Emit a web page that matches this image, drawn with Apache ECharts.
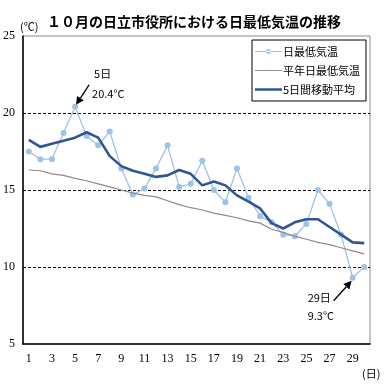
<!DOCTYPE html>
<html><head><meta charset="utf-8">
<script src="https://cdn.jsdelivr.net/npm/echarts@6/dist/echarts.min.js"></script>
<style>html,body{margin:0;padding:0;background:#fff}#c{width:388px;height:390px}</style>
</head><body><div id="c"></div>
<script>
const days = ['1','2','3','4','5','6','7','8','9','10','11','12','13','14','15','16','17','18','19','20','21','22','23','24','25','26','27','28','29','30'];
const dailyMin = [17.5,17.0,17.0,18.7,20.4,18.5,17.9,18.8,16.4,14.7,15.1,16.4,17.9,15.2,15.4,16.9,15.0,14.2,16.4,14.5,13.3,12.9,12.1,12.0,12.8,15.0,14.1,12.1,9.3,10.0];
const normalMin = [16.3,16.25,16.05,15.95,15.75,15.6,15.4,15.2,15.0,14.8,14.65,14.55,14.3,14.05,13.85,13.7,13.5,13.35,13.2,13.0,12.85,12.45,12.25,12.0,11.8,11.6,11.45,11.25,11.05,10.85];
const movingAvg = [18.25,17.8,18.0,18.2,18.4,18.75,18.4,17.2,16.55,16.25,16.05,15.85,15.95,16.3,16.05,15.3,15.55,15.3,14.65,14.25,13.8,12.85,12.5,12.9,13.1,13.1,12.6,12.1,11.6,11.55];
const seriesNames = ['日最低気温','平年日最低気温','5日間移動平均'];
const yTicks = [5,10,15,20,25];
const titleText = '１０月の日立市役所における日最低気温の推移';

const jp = '"Noto Sans CJK JP", sans-serif';
const serif = '"Liberation Serif", "DejaVu Serif", serif';
const dotIcon = 'path://M0,0h0.01v0.01h-0.01z M0,4.5h27v1h-27z M11,5a2.5,2.5 0 1,0 5,0a2.5,2.5 0 1,0 -5,0z M0,9.99h0.01v0.01h-0.01z';
const thinIcon = 'path://M0,0h0.01v0.01h-0.01z M0,4.5h27v1h-27z M0,9.99h0.01v0.01h-0.01z';
const thickIcon = 'path://M0,0h0.01v0.01h-0.01z M0,3.7h27v2.6h-27z M0,9.99h0.01v0.01h-0.01z';
const chart = echarts.init(document.getElementById('c'), null, {renderer:'canvas'});
chart.setOption({
  animation:false,
  title:{text:titleText,left:'center',top:10,textStyle:{fontFamily:jp,fontSize:14,fontWeight:'bold',color:'#000'}},
  legend:{
    orient:'vertical',left:252,top:40,
    data:[{name:seriesNames[0],icon:dotIcon},{name:seriesNames[1],icon:thinIcon},{name:seriesNames[2],icon:thickIcon}],
    backgroundColor:'#fff',borderColor:'#000',borderWidth:1,borderRadius:0,
    padding:[6,6,6,3],itemGap:8,itemWidth:27,itemHeight:10,
    textStyle:{fontFamily:jp,fontSize:11,color:'#000',padding:[0,0,0,-4]}
  },
  grid:{left:23,right:18,top:36,bottom:46,show:true,borderColor:'#8c8c8c',borderWidth:1,backgroundColor:'transparent'},
  xAxis:{
    type:'category',data:days,boundaryGap:true,
    axisLine:{lineStyle:{color:'#000',width:1.5}},
    axisTick:{inside:true,length:4,interval:0,lineStyle:{color:'#000'}},
    axisLabel:{interval:1,fontFamily:serif,fontSize:12,color:'#000',margin:9}
  },
  yAxis:{
    type:'value',min:yTicks[0],max:yTicks[yTicks.length-1],interval:5,
    axisLine:{show:true,lineStyle:{color:'#000',width:1.5}},
    axisTick:{show:false},
    axisLabel:{fontFamily:serif,fontSize:12,color:'#000',margin:8},
    splitLine:{show:true,lineStyle:{color:['transparent','#000','#000','#000','transparent'],type:[3,2],width:1}}
  },
  series:[
    {name:seriesNames[0],type:'line',data:dailyMin,symbol:'circle',symbolSize:6,
     lineStyle:{color:'#9DC3E6',width:1.3},itemStyle:{color:'#9DC3E6'},z:2},
    {name:seriesNames[1],type:'line',data:normalMin,symbol:'none',showSymbol:false,
     lineStyle:{color:'#8c8c8c',width:1.2},itemStyle:{color:'#8c8c8c'},z:3},
    {name:seriesNames[2],type:'line',data:movingAvg,symbol:'none',showSymbol:false,
     lineStyle:{color:'#2F5597',width:2.6},itemStyle:{color:'#2F5597'},z:4}
  ]
});

function arrow(tail, head){
  const dx=head[0]-tail[0], dy=head[1]-tail[1], L=Math.hypot(dx,dy);
  const ux=dx/L, uy=dy/L, px=-uy, py=ux, hl=8, hw=4;
  const b=[head[0]-ux*hl, head[1]-uy*hl];
  return [
    {type:'line',shape:{x1:tail[0],y1:tail[1],x2:b[0],y2:b[1]},style:{stroke:'#000',lineWidth:1.3},z:50},
    {type:'polygon',shape:{points:[head,[b[0]+px*hw,b[1]+py*hw],[b[0]-px*hw,b[1]-py*hw]]},style:{fill:'#000'},z:50}
  ];
}
function txt(x,y,t,size,font){
  return {type:'text',x:x,y:y,style:{text:t,fill:'#000',font:(size)+'px '+font,textAlign:'left',textVerticalAlign:'middle'},z:50};
}
const hi = dailyMin.indexOf(Math.max(...dailyMin));
const lo = dailyMin.indexOf(Math.min(...dailyMin));
const pH = chart.convertToPixel({xAxisIndex:0,yAxisIndex:0},[hi,dailyMin[hi]]);
const pL = chart.convertToPixel({xAxisIndex:0,yAxisIndex:0},[lo,dailyMin[lo]]);
const g = [].concat(
  arrow([pH[0]+14,pH[1]-22],[pH[0]+1,pH[1]-2]),
  arrow([pL[0]-19,pL[1]+23],[pL[0]-1,pL[1]+3]),
  [
    txt(pH[0]+19,pH[1]-33,days[hi]+'日',11,jp),
    txt(pH[0]+17,pH[1]-13,dailyMin[hi].toFixed(1)+'°C',11,jp),
    txt(pL[0]-45,pL[1]+20,days[lo]+'日',11,jp),
    txt(pL[0]-45,pL[1]+38,dailyMin[lo].toFixed(1)+'°C',11,jp),
    txt(20,27,'(℃)',11,jp),
    txt(362,374,'(日)',11,jp)
  ]
);
chart.setOption({graphic:g});
</script></body></html>
